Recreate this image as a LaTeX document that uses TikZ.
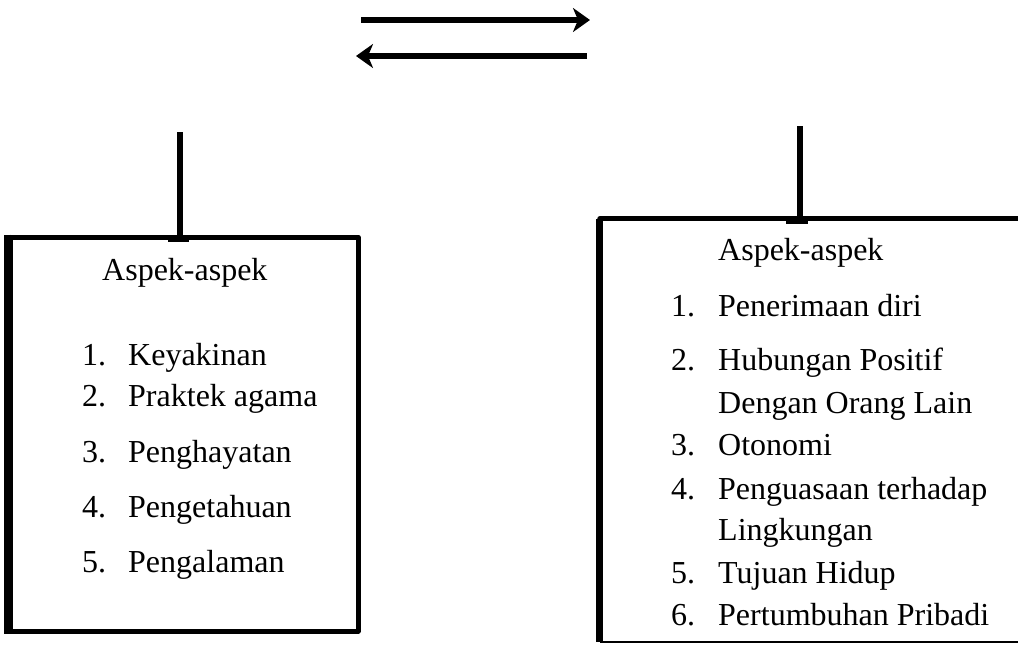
\documentclass[tikz,border=0pt]{standalone}
\usepackage{fontspec}
\setmainfont{Liberation Serif}
\usetikzlibrary{arrows.meta,calc}
\begin{document}
\begin{tikzpicture}[x=1pt,y=-1pt,
  txt/.style={font=\fontsize{32}{38}\selectfont, anchor=base west, inner sep=0pt},
  boxline/.style={line width=5pt, line cap=round, line join=round},
  sideline/.style={line width=7pt},
  stub/.style={line width=5.5pt},
  joint/.style={line width=7pt},
  flow/.style={line width=6pt, -{Stealth[length=17pt,width=24pt,inset=5pt]}}]
\useasboundingbox[fill=white] (0,0) rectangle (1018,645);

% arrows
\coordinate (a1s) at (361,20);
\coordinate (a1e) at (590,20);
\coordinate (a2s) at (587,56);
\coordinate (a2e) at (356,56);
\draw[flow] (a1s) -- (a1e);
\draw[flow] (a2s) -- (a2e);

% left box
\node[draw, boxline, minimum width=348pt, minimum height=394pt, inner sep=0pt] (lbox) at (184,434) {};
\draw[sideline] (lbox.north west) -- (lbox.south west);
\coordinate (ls) at (180,132);
\draw[stub] (ls) -- (ls |- lbox.north);
\draw[joint] ($(ls |- lbox.north)+(-12,4)$) -- ($(ls |- lbox.north)+(9,4)$);

% right box
\node[minimum width=440pt, minimum height=423pt, inner sep=0pt] (rbox) at (820,430.5) {};
\draw[boxline] (rbox.north east) -- (rbox.north west);
\draw[sideline] (rbox.north west) -- (rbox.south west);
\draw[line width=2.5pt] (rbox.south west) -- (rbox.south east);
\coordinate (rs) at (800,126);
\draw[stub] (rs) -- (rs |- rbox.north);
\draw[joint] ($(rs |- rbox.north)+(-14,2)$) -- ($(rs |- rbox.north)+(8,2)$);

% left texts
\node[txt] (lh) at (102,280) {Aspek-aspek};
\node[txt] (ln1) at (82,365) {1.};  \node[txt] (lt1) at (128,365) {Keyakinan};
\node[txt] (ln2) at (82,406) {2.};  \node[txt] (lt2) at (128,406) {Praktek agama};
\node[txt] (ln3) at (82,462) {3.};  \node[txt] (lt3) at (128,462) {Penghayatan};
\node[txt] (ln4) at (82,517) {4.};  \node[txt] (lt4) at (128,517) {Pengetahuan};
\node[txt] (ln5) at (82,572) {5.};  \node[txt] (lt5) at (128,572) {Pengalaman};

% right texts
\node[txt] (rh) at (718,260) {Aspek-aspek};
\node[txt] (rn1) at (671,316) {1.};  \node[txt] (rt1) at (718,316) {Penerimaan diri};
\node[txt] (rn2) at (671,370) {2.};  \node[txt] (rt2) at (718,370) {Hubungan Positif};
\node[txt] (rt2b) at (718,413) {Dengan Orang Lain};
\node[txt] (rn3) at (671,455) {3.};  \node[txt] (rt3) at (718,455) {Otonomi};
\node[txt] (rn4) at (671,499) {4.};  \node[txt] (rt4) at (718,499) {Penguasaan terhadap};
\node[txt] (rt4b) at (718,540) {Lingkungan};
\node[txt] (rn5) at (671,583) {5.};  \node[txt] (rt5) at (718,583) {Tujuan Hidup};
\node[txt] (rn6) at (671,625) {6.};  \node[txt] (rt6) at (718,625) {Pertumbuhan Pribadi};
\end{tikzpicture}
\end{document}
